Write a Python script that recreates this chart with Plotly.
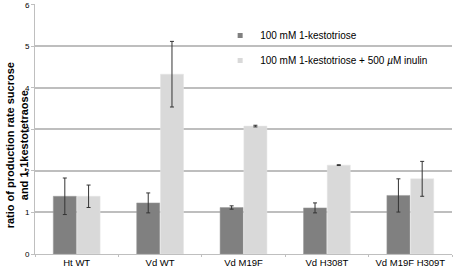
import plotly.graph_objects as go

categories = ["Ht WT", "Vd WT", "Vd M19F", "Vd H308T", "Vd M19F H309T"]
series1_name = "100 mM 1-kestotriose"
series2_name = "100 mM 1-kestotriose + 500 <i>µ</i>M inulin"
series1_values = [1.39, 1.23, 1.12, 1.11, 1.41]
series1_errors = [0.44, 0.24, 0.04, 0.12, 0.40]
series2_values = [1.39, 4.33, 3.08, 2.14, 1.81]
series2_errors = [0.27, 0.79, 0.02, 0.01, 0.42]
y_ticks = [0, 1, 2, 3, 4, 5, 6]

font_family = "Liberation Sans, Arial, Helvetica, sans-serif"
dark = "#808080"
light = "#d9d9d9"

fig = go.Figure()
fig.add_trace(go.Bar(
    x=categories, y=series1_values, name=series1_name,
    marker=dict(color=dark, line=dict(width=0.5, color="#9a9a9a")),
    error_y=dict(type="data", array=series1_errors, color="#333333", thickness=1, width=2),
    showlegend=False,
))
fig.add_trace(go.Bar(
    x=categories, y=series2_values, name=series2_name,
    marker=dict(color=light, line=dict(width=0.5, color="#e4e4e4")),
    error_y=dict(type="data", array=series2_errors, color="#333333", thickness=1, width=2),
    showlegend=False,
))
# legend-only entries with small square swatches
fig.add_trace(go.Scatter(x=[None], y=[None], mode="markers", name=series1_name,
                         marker=dict(symbol="square", size=5, color=dark), legendgroup="a"))
fig.add_trace(go.Scatter(x=[None], y=[None], mode="markers", name=series2_name,
                         marker=dict(symbol="square", size=5, color=light), legendgroup="b"))

fig.update_layout(
    width=454, height=271,
    margin=dict(l=35, r=2, t=4, b=17),
    paper_bgcolor="white", plot_bgcolor="white",
    barmode="group", bargap=0.43, bargroupgap=0.03,
    font=dict(family=font_family, color="#000000"),
    legend=dict(
        x=0.444, y=0.932, xanchor="left", yanchor="top",
        font=dict(size=10, family=font_family),
        tracegroupgap=6, itemwidth=30, bgcolor="rgba(0,0,0,0)",
        traceorder="grouped",
    ),
    showlegend=True,
    annotations=[dict(
        text="<b>ratio of production rate sucrose<br>and 1-1kestotetraose</b>",
        xref="paper", yref="paper", x=-0.043, y=0.435,
        xanchor="center", yanchor="middle", textangle=-90, showarrow=False,
        font=dict(size=11, family=font_family),
    )],
)
fig.update_xaxes(
    showline=True, linecolor="#bfbfbf", linewidth=1,
    ticks="outside", tickson="boundaries", ticklen=2, tickcolor="#bfbfbf",
    tickfont=dict(size=9.5, family=font_family),
    showgrid=False, automargin=False,
)
fig.update_yaxes(
    range=[0, 6.02], tickvals=y_ticks, ticktext=[str(v) for v in y_ticks],
    showline=True, linecolor="#bfbfbf", linewidth=1,
    ticks="outside", ticklen=3, tickcolor="#bfbfbf",
    showgrid=True, gridcolor="#bebebe", gridwidth=1.5,
    zeroline=False,
    tickfont=dict(size=8, family=font_family),
    automargin=False,
)

fig.write_html(
    "out.html",
    config={"displayModeBar": False},
    post_script="document.body.style.margin='0';document.body.style.padding='0';",
)
